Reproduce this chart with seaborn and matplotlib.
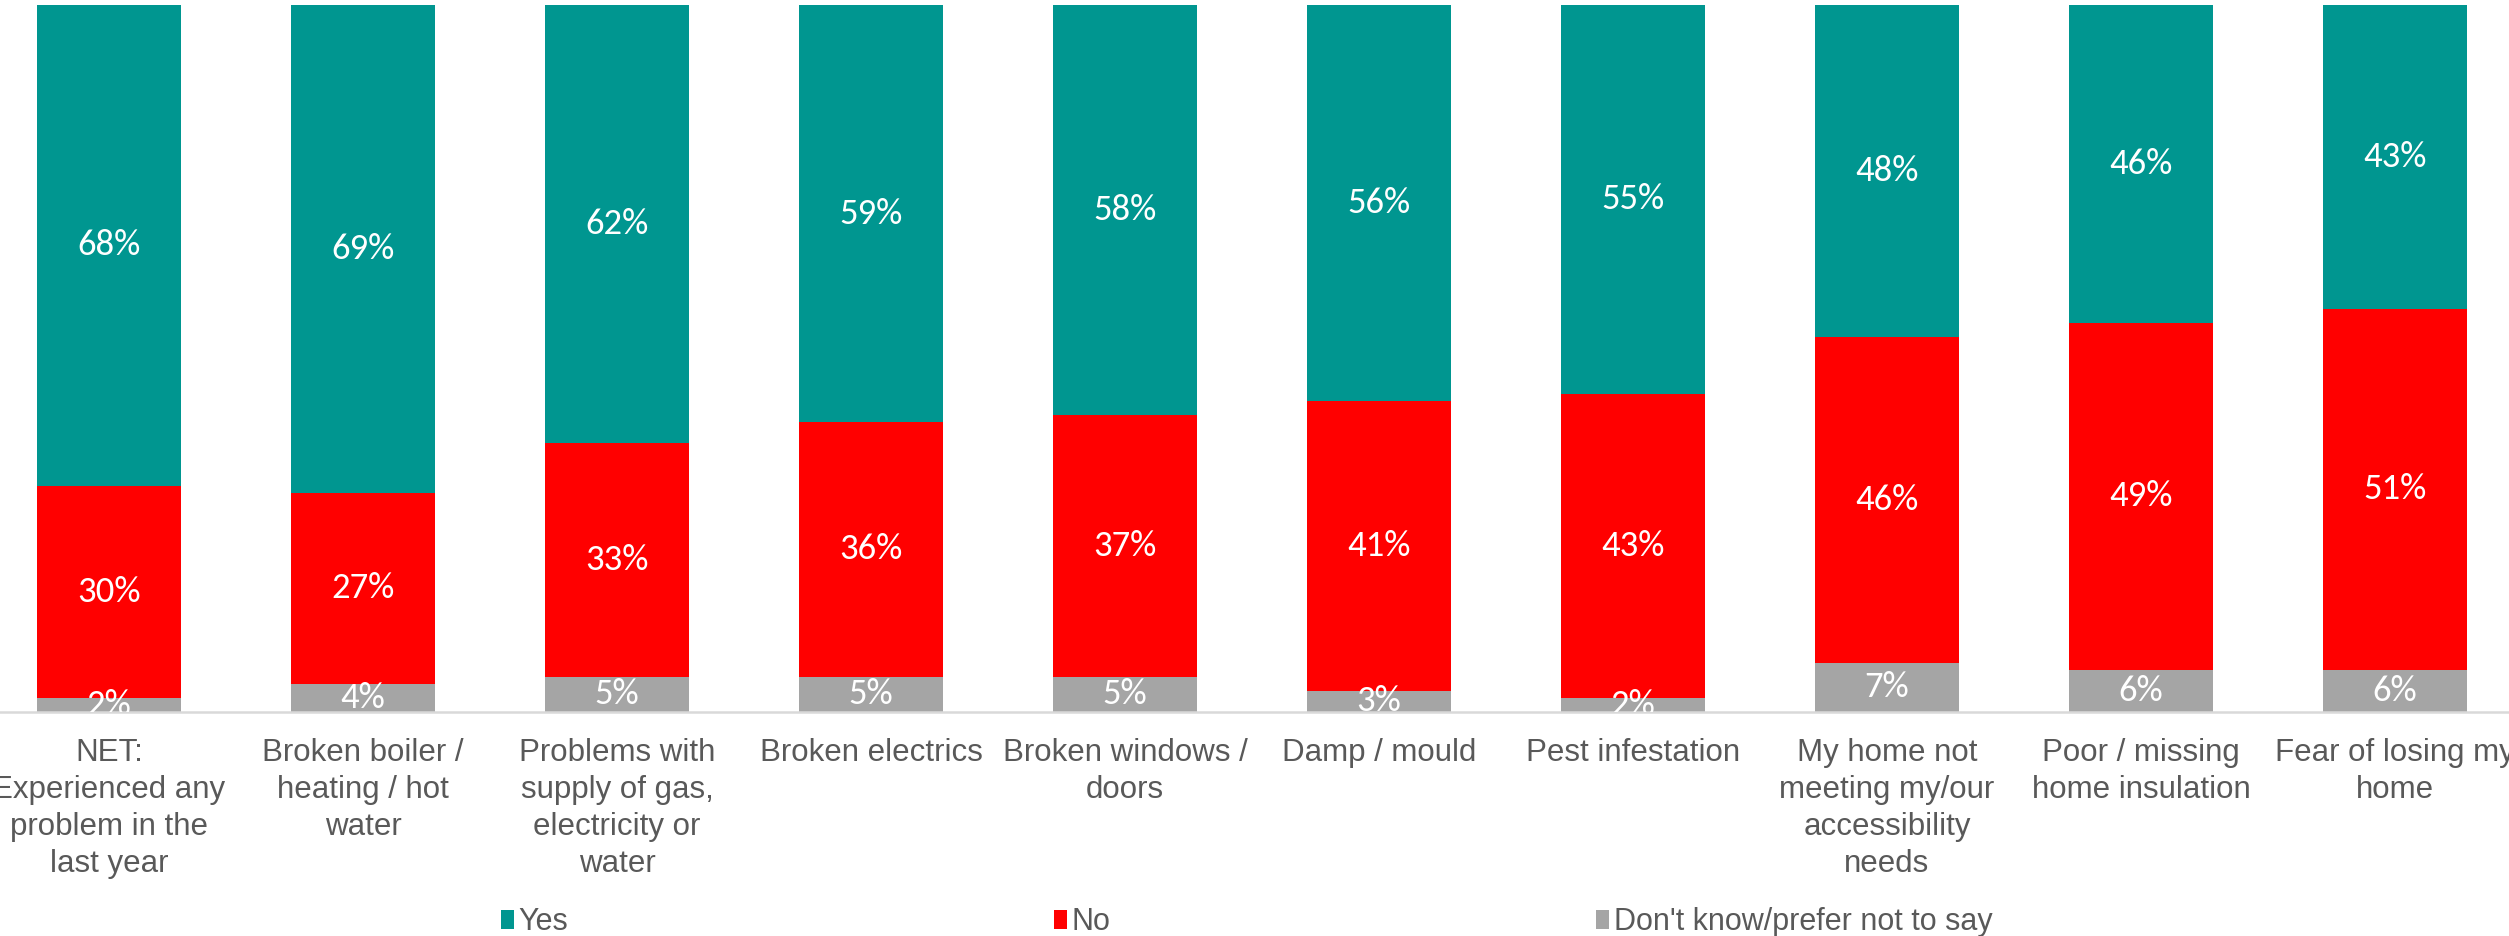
import matplotlib
matplotlib.use("Agg")
import matplotlib.pyplot as plt
import seaborn as sns
import pandas as pd
import numpy as np
from matplotlib.patches import Patch

categories = [
    "NET:\nExperienced any\nproblem in the\nlast year",
    "Broken boiler /\nheating / hot\nwater",
    "Problems with\nsupply of gas,\nelectricity or\nwater",
    "Broken electrics",
    "Broken windows /\ndoors",
    "Damp / mould",
    "Pest infestation",
    "My home not\nmeeting my/our\naccessibility\nneeds",
    "Poor / missing\nhome insulation",
    "Fear of losing my\nhome",
]
yes = [68, 69, 62, 59, 58, 56, 55, 48, 46, 43]
no = [30, 27, 33, 36, 37, 41, 43, 46, 49, 51]
dk = [2, 4, 5, 5, 5, 3, 2, 7, 6, 6]
series_names = ["Yes", "No", "Don't know/prefer not to say"]

TEAL = "#009690"
RED = "#FF0000"
GRAY = "#A5A5A5"
TXT = "#595959"
LABEL_FONT = ["Liberation Sans", "DejaVu Sans"]
VAL_FONT = ["Carlito", "DejaVu Sans"]

sns.set_theme(style="white")
plt.rcParams["font.family"] = LABEL_FONT

df = pd.DataFrame({"cat": categories, "yes": yes, "no": no, "dk": dk})
df["top_no"] = df["dk"] + df["no"]
df["top_yes"] = df["top_no"] + df["yes"]

W, H = 2509, 936
fig = plt.figure(figsize=(W / 100, H / 100), dpi=100)
ax = fig.add_axes([-18 / W, (H - 712) / H, 2540 / W, (712 - 5) / H])

bw = 0.567
sns.barplot(data=df, x="cat", y="top_yes", color=TEAL, width=bw, ax=ax, saturation=1, linewidth=0)
sns.barplot(data=df, x="cat", y="top_no", color=RED, width=bw, ax=ax, saturation=1, linewidth=0)
sns.barplot(data=df, x="cat", y="dk", color=GRAY, width=bw, ax=ax, saturation=1, linewidth=0)

ax.set_ylim(0, 100)
ax.set_xlim(-0.5, len(categories) - 0.5)

for i in range(len(categories)):
    segs = [
        (dk[i] / 2, dk[i]),
        (dk[i] + no[i] / 2, no[i]),
        ((dk[i] + no[i] + min(100, dk[i] + no[i] + yes[i])) / 2, yes[i]),
    ]
    for yc, v in segs:
        ax.text(i, yc, f"{v}%", ha="center", va="center", color="white",
                fontsize=26.5, family=VAL_FONT, clip_on=True)

ax.set_xlabel("")
ax.set_ylabel("")
ax.set_yticks([])
for s in ["top", "left", "right"]:
    ax.spines[s].set_visible(False)
ax.spines["bottom"].set_color("#D9D9D9")
ax.spines["bottom"].set_linewidth(1.8)

ax.set_xticks(range(len(categories)))
ax.set_xticklabels(categories, fontsize=22.5, color=TXT, linespacing=1.31, family=LABEL_FONT)
ax.tick_params(axis="x", which="major", length=0, pad=18.5)
ax.set_xticks(np.arange(0.5, len(categories) - 0.5, 1), minor=True)
ax.tick_params(axis="x", which="minor", length=9, width=1.5, color="#D9D9D9")

handles = [Patch(facecolor=c, edgecolor="none") for c in [TEAL, RED, GRAY]]
leg = fig.legend(handles, series_names, loc="center left",
                 bbox_to_anchor=(501 / W, 1 - 922 / H), ncol=3, frameon=False,
                 handlelength=0.42, handleheight=0.6, handletextpad=0.15,
                 columnspacing=15.9, borderpad=0, borderaxespad=0,
                 prop={"family": LABEL_FONT, "size": 22})
for t in leg.get_texts():
    t.set_color(TXT)

fig.savefig("out.png", dpi=100)
